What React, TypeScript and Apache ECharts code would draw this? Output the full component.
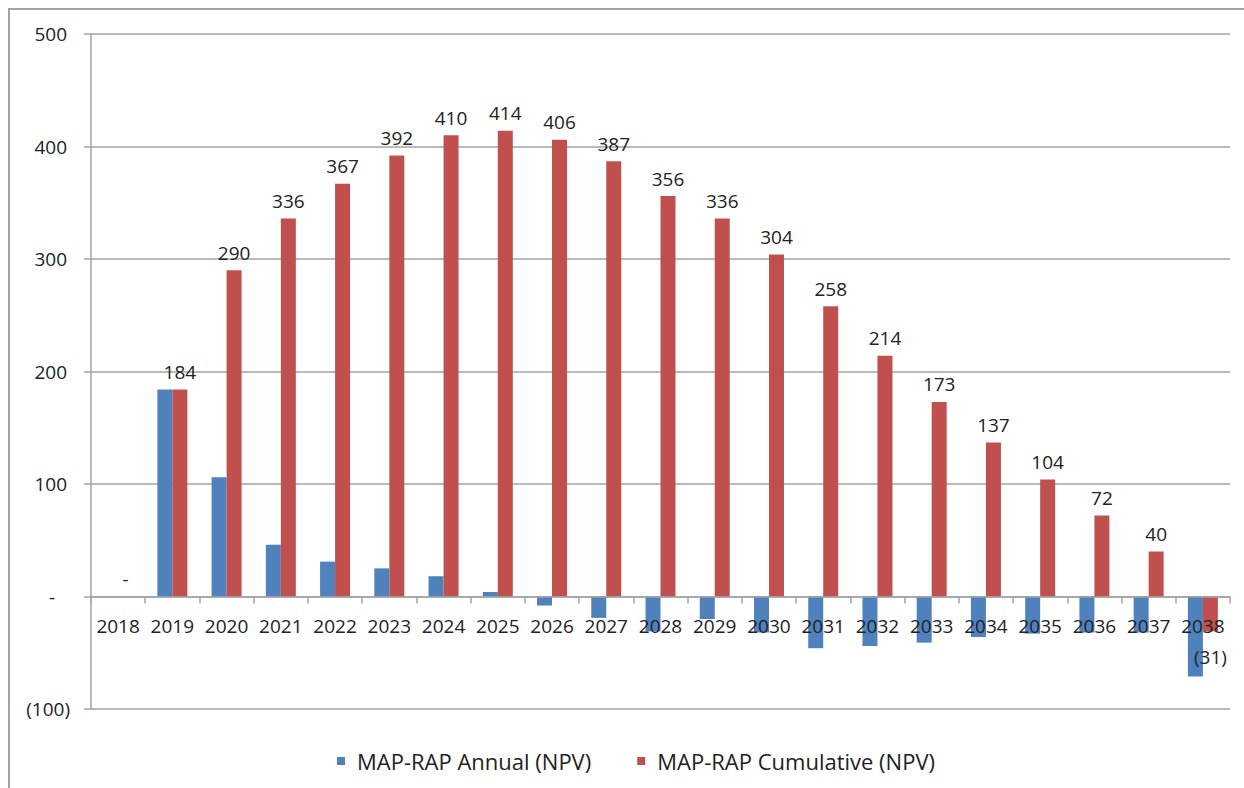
import React, { useEffect, useRef } from "react";
import * as echarts from "echarts";

const years = [
  "2018", "2019", "2020", "2021", "2022", "2023", "2024", "2025", "2026", "2027", "2028",
  "2029", "2030", "2031", "2032", "2033", "2034", "2035", "2036", "2037", "2038",
];
const annual = [0, 184, 106, 46, 31, 25, 18, 4, -8, -19, -31, -20, -32, -46, -44, -41, -36, -33, -32, -32, -71];
const cumulative = [0, 184, 290, 336, 367, 392, 410, 414, 406, 387, 356, 336, 304, 258, 214, 173, 137, 104, 72, 40, -31];
const seriesNames = ["MAP-RAP Annual (NPV)", "MAP-RAP Cumulative (NPV)"];
const yTicks = { min: -100, max: 500, interval: 100 };

const FONT = "'Open Sans', sans-serif";
const TEXT = "#222222";
const GRAY = "#a3a3a3";

const GRID_TOP = 34;
const GRID_BOTTOM = 79;
const CHART_H = 788;

function acct(v: number): string {
  if (v === 0) return "-";
  if (v < 0) return `(${Math.abs(v)})`;
  return String(v);
}

export default function App() {
  const ref = useRef<HTMLDivElement>(null);
  useEffect(() => {
    if (!ref.current) return;
    const chart = echarts.init(ref.current, undefined, { renderer: "svg" });
    const cumData = cumulative.map((v) =>
      v < 0 ? { value: v, label: { position: "bottom", distance: 16 } } : v
    );
    // place the category axis on the zero line, measured from the grid bottom
    const plotH = CHART_H - GRID_TOP - GRID_BOTTOM;
    const zeroOffset = -(plotH * (0 - yTicks.min)) / (yTicks.max - yTicks.min);
    chart.setOption({
      animation: false,
      backgroundColor: "#ffffff",
      textStyle: { fontFamily: FONT },
      graphic: [
        {
          type: "rect",
          x: 9,
          y: 9,
          shape: { x: 0, y: 0, width: 1400, height: 900 },
          style: { fill: "none", stroke: GRAY, lineWidth: 2 },
          silent: true,
          z: -10,
        },
      ],
      grid: { left: 91, right: 14, top: GRID_TOP, bottom: GRID_BOTTOM, containLabel: false },
      legend: {
        data: seriesNames,
        left: 332,
        top: 745,
        icon: "rect",
        itemWidth: 8,
        itemHeight: 8,
        itemGap: 46,
        textStyle: { fontFamily: FONT, fontSize: 22, color: TEXT, padding: [0, 0, 0, 7] },
      },
      xAxis: {
        type: "category",
        data: years,
        position: "bottom",
        offset: zeroOffset,
        z: 5,
        axisLine: { onZero: false, lineStyle: { color: GRAY, width: 1.5 } },
        axisTick: { show: true, length: 7, lineStyle: { color: GRAY, width: 1.5 } },
        axisLabel: { interval: 0, fontFamily: FONT, fontSize: 19, color: TEXT, margin: 20 },
        splitLine: { show: false },
      },
      yAxis: {
        type: "value",
        min: yTicks.min,
        max: yTicks.max,
        interval: yTicks.interval,
        axisLine: { show: true, lineStyle: { color: GRAY, width: 1.5 } },
        axisTick: { show: true, length: 7, lineStyle: { color: GRAY, width: 1.5 } },
        splitLine: { show: true, lineStyle: { color: GRAY, width: 1.5 } },
        axisLabel: {
          margin: 21,
          fontFamily: FONT,
          fontSize: 19,
          color: TEXT,
          formatter: (v: number) => {
            if (v === 0) return "{z|-}";
            if (v < 0) return `{n|${acct(v)}}`;
            return `{p|${acct(v)}}`;
          },
          rich: {
            z: { fontFamily: FONT, fontSize: 19, color: TEXT, padding: [0, 15, 0, 0] },
            n: { fontFamily: FONT, fontSize: 19, color: TEXT },
            p: { fontFamily: FONT, fontSize: 19, color: TEXT, padding: [0, 3, 0, 0] },
          },
        },
      },
      series: [
        {
          name: seriesNames[0],
          type: "bar",
          data: annual,
          barWidth: 15,
          barGap: "0%",
          z: 2,
          itemStyle: { color: "#4F81BD" },
        },
        {
          name: seriesNames[1],
          type: "bar",
          data: cumData,
          barWidth: 15,
          z: 2,
          itemStyle: { color: "#C0504D" },
          label: {
            show: true,
            position: "top",
            distance: 8,
            fontFamily: FONT,
            fontSize: 19,
            color: TEXT,
            formatter: (p: any) => acct(p.value as number),
          },
        },
      ],
    });
    return () => chart.dispose();
  }, []);
  return (
    <div
      ref={ref}
      style={{ position: "absolute", left: 0, top: 0, width: 1244, height: 788 }}
    />
  );
}
